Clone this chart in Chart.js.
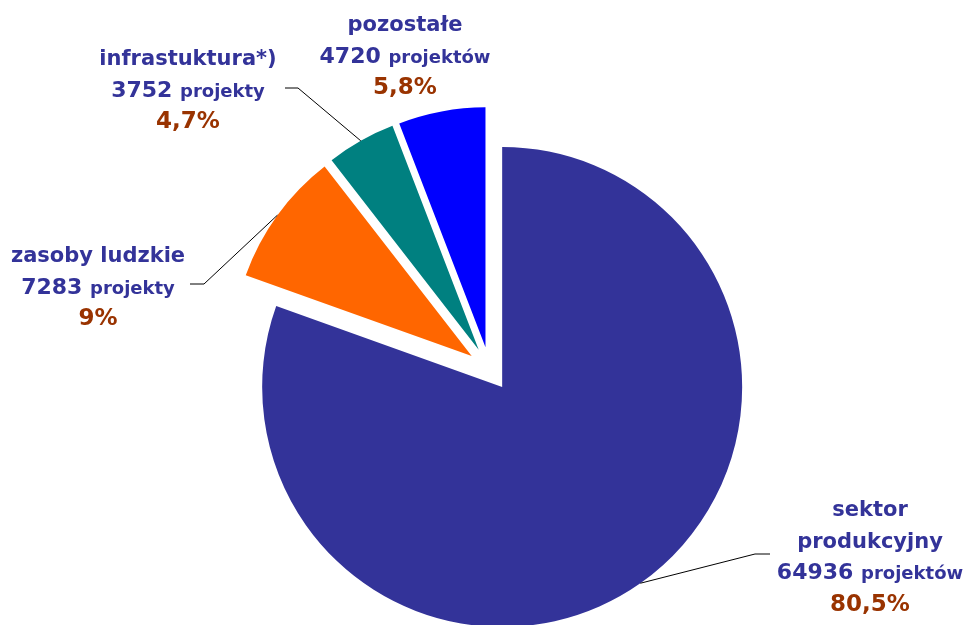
<!DOCTYPE html>
<html lang="pl">
<head>
<meta charset="utf-8">
<title>Projekty według sektorów</title>
<script src="https://cdn.jsdelivr.net/npm/chart.js@4.4.0/dist/chart.umd.min.js"></script>
<style>
  html, body { margin: 0; padding: 0; background: #fff; }
  #wrap { position: relative; width: 970px; height: 625px; }
</style>
</head>
<body>
<div id="wrap"><canvas id="pieChart"></canvas></div>
<script>
// dane
const categories = ['sektor produkcyjny', 'zasoby ludzkie', 'infrastuktura*)', 'pozostałe'];
const projectCounts = [64936, 7283, 3752, 4720];
const shareLabels = ['80,5%', '9%', '4,7%', '5,8%'];
const unitLabels = ['projektów', 'projekty', 'projekty', 'projektów'];

// kolory wycinków
const sliceColors = ['#333399', '#FF6600', '#008080', '#0000FF'];
const NAME_COLOR = '#333399';
const PCT_COLOR = '#993300';
const EXPLODE = 22; // odsunięcie wycinków od środka (px)
const LINE = 31.5;

// położenie etykiet (środek tekstu, linia bazowa pierwszego wiersza) i linie odniesienia
const labelLayout = [
  { x: 870, y: 516, wrap: true, leader: [770, 755, 554] },
  { x: 98, y: 262, wrap: false, leader: [190, 204, 284] },
  { x: 188, y: 65, wrap: false, leader: [285, 298, 88] },
  { x: 405, y: 31, wrap: false, leader: null }
];

const FONT = '"DejaVu Sans", Verdana, sans-serif';

// przesuwa każdy wycinek wzdłuż jego środkowego kąta
const explodePlugin = {
  id: 'explode',
  afterDatasetUpdate(chart, args) {
    args.meta.data.forEach(arc => {
      const mid = (arc.startAngle + arc.endAngle) / 2;
      arc.x += Math.cos(mid) * EXPLODE;
      arc.y += Math.sin(mid) * EXPLODE;
    });
  }
};

// etykiety z liniami odniesienia
const labelPlugin = {
  id: 'sliceLabels',
  afterDatasetsDraw(chart) {
    const ctx = chart.ctx;
    const arcs = chart.getDatasetMeta(0).data;
    ctx.save();
    arcs.forEach((arc, i) => {
      const lay = labelLayout[i];
      if (lay.leader) {
        const mid = (arc.startAngle + arc.endAngle) / 2;
        const ax = arc.x + Math.cos(mid) * arc.outerRadius;
        const ay = arc.y + Math.sin(mid) * arc.outerRadius;
        ctx.beginPath();
        ctx.moveTo(ax, ay);
        ctx.lineTo(lay.leader[1], lay.leader[2]);
        ctx.lineTo(lay.leader[0], lay.leader[2]);
        ctx.strokeStyle = '#000';
        ctx.lineWidth = 1;
        ctx.stroke();
      }

      let y = lay.y;
      const names = lay.wrap ? categories[i].split(' ') : [categories[i]];
      ctx.textBaseline = 'alphabetic';
      ctx.textAlign = 'center';
      ctx.fillStyle = NAME_COLOR;
      ctx.font = 'bold 21px ' + FONT;
      names.forEach(n => {
        ctx.fillText(n, lay.x, y);
        y += LINE;
      });

      // liczba projektów + jednostka (mniejsza czcionka)
      const num = projectCounts[i] + ' ';
      const numFont = 'bold 22px ' + FONT;
      const unitFont = 'bold 18px ' + FONT;
      ctx.font = numFont;
      const w1 = ctx.measureText(num).width;
      ctx.font = unitFont;
      const w2 = ctx.measureText(unitLabels[i]).width;
      const x0 = lay.x - (w1 + w2) / 2;
      ctx.textAlign = 'left';
      ctx.font = numFont;
      ctx.fillText(num, x0, y);
      ctx.font = unitFont;
      ctx.fillText(unitLabels[i], x0 + w1, y);
      y += LINE;

      ctx.textAlign = 'center';
      ctx.fillStyle = PCT_COLOR;
      ctx.font = 'bold 23px ' + FONT;
      ctx.fillText(shareLabels[i], lay.x, y);
    });
    ctx.restore();
  }
};

new Chart(document.getElementById('pieChart'), {
  type: 'pie',
  data: {
    labels: categories,
    datasets: [{
      data: projectCounts,
      backgroundColor: sliceColors,
      borderWidth: 0
    }]
  },
  options: {
    responsive: true,
    maintainAspectRatio: false,
    animation: false,
    radius: 240,
    layout: {
      padding: { left: 9, top: 113, right: 0, bottom: 0 }
    },
    plugins: {
      legend: { display: false },
      tooltip: { enabled: false }
    }
  },
  plugins: [explodePlugin, labelPlugin]
});
</script>
</body>
</html>
